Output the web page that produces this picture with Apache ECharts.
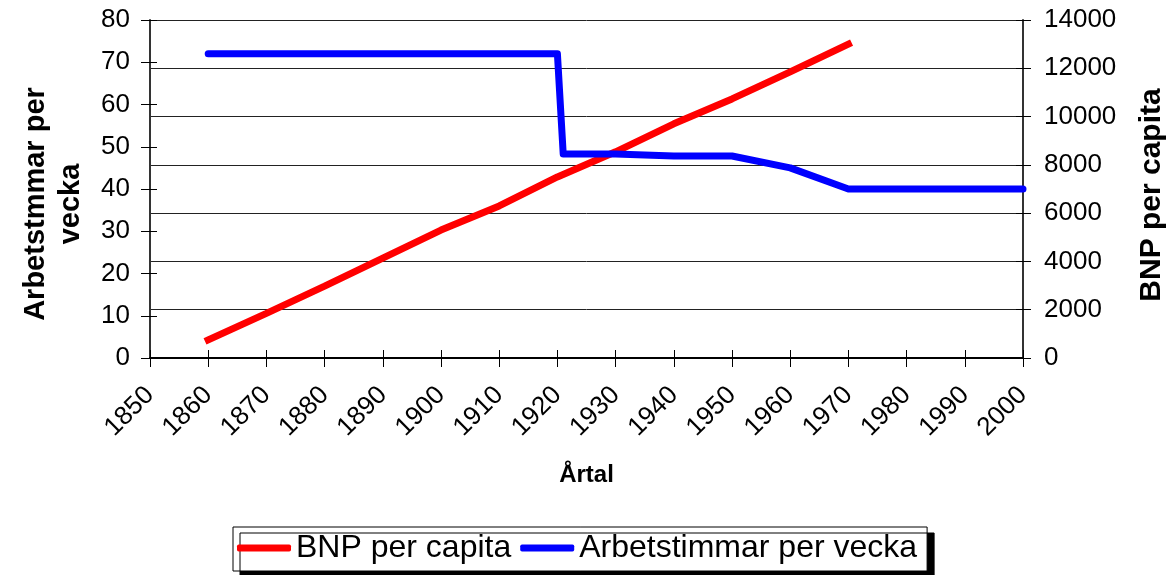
<!DOCTYPE html>
<html>
<head>
<meta charset="utf-8">
<script src="https://cdn.jsdelivr.net/npm/echarts@6/dist/echarts.min.js"></script>
<style>
  html, body { margin: 0; padding: 0; background: #fff; }
  #chart { width: 1175px; height: 575px; }
</style>
</head>
<body>
<div id="chart"></div>
<script>
// BNP per capita (right axis)
var bnpYears = [1860, 1870, 1880, 1890, 1900, 1910, 1920, 1930, 1940, 1950, 1960, 1970];
var bnpValues = [750, 1850, 2980, 4140, 5300, 6300, 7500, 8540, 9700, 10730, 11850, 13000];

// Arbetstimmar per vecka (left axis)
var hourYears = [1860, 1870, 1880, 1890, 1900, 1910, 1920, 1921, 1930, 1940, 1950, 1960, 1970, 1980, 1990, 2000];
var hourValues = [72, 72, 72, 72, 72, 72, 72, 48.3, 48.3, 47.8, 47.8, 45, 40, 40, 40, 40];

var chartDom = document.getElementById('chart');
var myChart = echarts.init(chartDom);
var font = '"Liberation Sans", Arial, sans-serif';

function pairs(xs, ys) {
    return xs.map(function (x, i) { return [x, ys[i]]; });
}
function plain(v) { return String(v); }

var option = {
    animation: false,
    textStyle: { fontFamily: font },
    grid: { left: 150, right: 150, top: 20, bottom: 217 },
    legend: {
        left: 233,
        top: 527,
        data: ['BNP per capita', 'Arbetstimmar per vecka'],
        icon: 'roundRect',
        itemWidth: 54,
        itemHeight: 7,
        itemGap: 9,
        padding: [5, 10, 7, 4],
        borderColor: '#000',
        borderWidth: 1,
        backgroundColor: '#fff',
        shadowColor: '#000',
        shadowOffsetX: 7,
        shadowOffsetY: 6,
        shadowBlur: 0,
        textStyle: { fontSize: 32, color: '#000', fontFamily: font, padding: [0, 0, 0, 0] }
    },
    xAxis: [
        {
            type: 'value',
            min: 1850, max: 2000, interval: 10,
            name: 'Årtal',
            nameLocation: 'middle',
            nameGap: 105,
            nameTextStyle: { fontSize: 24, fontWeight: 'bold', color: '#000', fontFamily: font },
            axisLine: { lineStyle: { color: '#000', width: 2 } },
            axisTick: { show: true, length: 9, lineStyle: { color: '#000' } },
            axisLabel: { rotate: 45, fontSize: 26, color: '#000', margin: 33, fontFamily: font, formatter: plain },
            splitLine: { show: false }
        },
        {
            type: 'value',
            position: 'bottom',
            min: 1850, max: 2000, interval: 10,
            axisLine: { show: false },
            axisTick: { show: true, inside: true, length: 8, lineStyle: { color: '#000' } },
            axisLabel: { show: false },
            splitLine: { show: false }
        }
    ],
    yAxis: [
        {
            type: 'value',
            min: 0, max: 80, interval: 10,
            position: 'left',
            name: 'Arbetstmmar per\nvecka',
            nameLocation: 'middle',
            nameGap: 62,
            nameTextStyle: { fontSize: 29, fontWeight: 'bold', color: '#000', lineHeight: 35, fontFamily: font, padding: [0, 30, 0, 0] },
            axisLine: { show: true, lineStyle: { color: '#333', width: 2 } },
            axisTick: { show: true, length: 9, lineStyle: { color: '#000' } },
            axisLabel: { fontSize: 26, color: '#000', margin: 20, fontFamily: font, formatter: plain },
            splitLine: { show: false }
        },
        {
            type: 'value',
            min: 0, max: 14000, interval: 2000,
            position: 'right',
            name: 'BNP per capita',
            nameLocation: 'middle',
            nameGap: 114,
            nameRotate: 90,
            nameTextStyle: { fontSize: 30, fontWeight: 'bold', color: '#000', fontFamily: font, padding: [0, 12, 0, 0] },
            axisLine: { show: true, lineStyle: { color: '#333', width: 2 } },
            axisTick: { show: true, length: 8, lineStyle: { color: '#000' } },
            axisLabel: { fontSize: 26, color: '#000', margin: 21, fontFamily: font, formatter: plain },
            splitLine: { show: true, lineStyle: { color: '#222', width: 1 } }
        },
        {
            type: 'value',
            min: 0, max: 80, interval: 10,
            position: 'left',
            axisLine: { show: false },
            axisTick: { show: true, inside: true, length: 7, lineStyle: { color: '#000' } },
            axisLabel: { show: false },
            splitLine: { show: false }
        },
        {
            type: 'value',
            min: 0, max: 14000, interval: 2000,
            position: 'right',
            axisLine: { show: false },
            axisTick: { show: true, inside: true, length: 7, lineStyle: { color: '#000' } },
            axisLabel: { show: false },
            splitLine: { show: false }
        }
    ],
    series: [
        {
            name: 'BNP per capita',
            type: 'line',
            yAxisIndex: 1,
            data: pairs(bnpYears, bnpValues),
            showSymbol: false,
            itemStyle: { color: '#ff0000' },
            lineStyle: { color: '#ff0000', width: 7, cap: 'square' },
            z: 3
        },
        {
            name: 'Arbetstimmar per vecka',
            type: 'line',
            yAxisIndex: 0,
            data: pairs(hourYears, hourValues),
            showSymbol: false,
            itemStyle: { color: '#0000ff' },
            lineStyle: { color: '#0000ff', width: 7, cap: 'round', join: 'round' },
            z: 4
        }
    ]
};

option && myChart.setOption(option);

window.addEventListener('resize', function () {
    myChart.resize();
});
</script>
</body>
</html>
